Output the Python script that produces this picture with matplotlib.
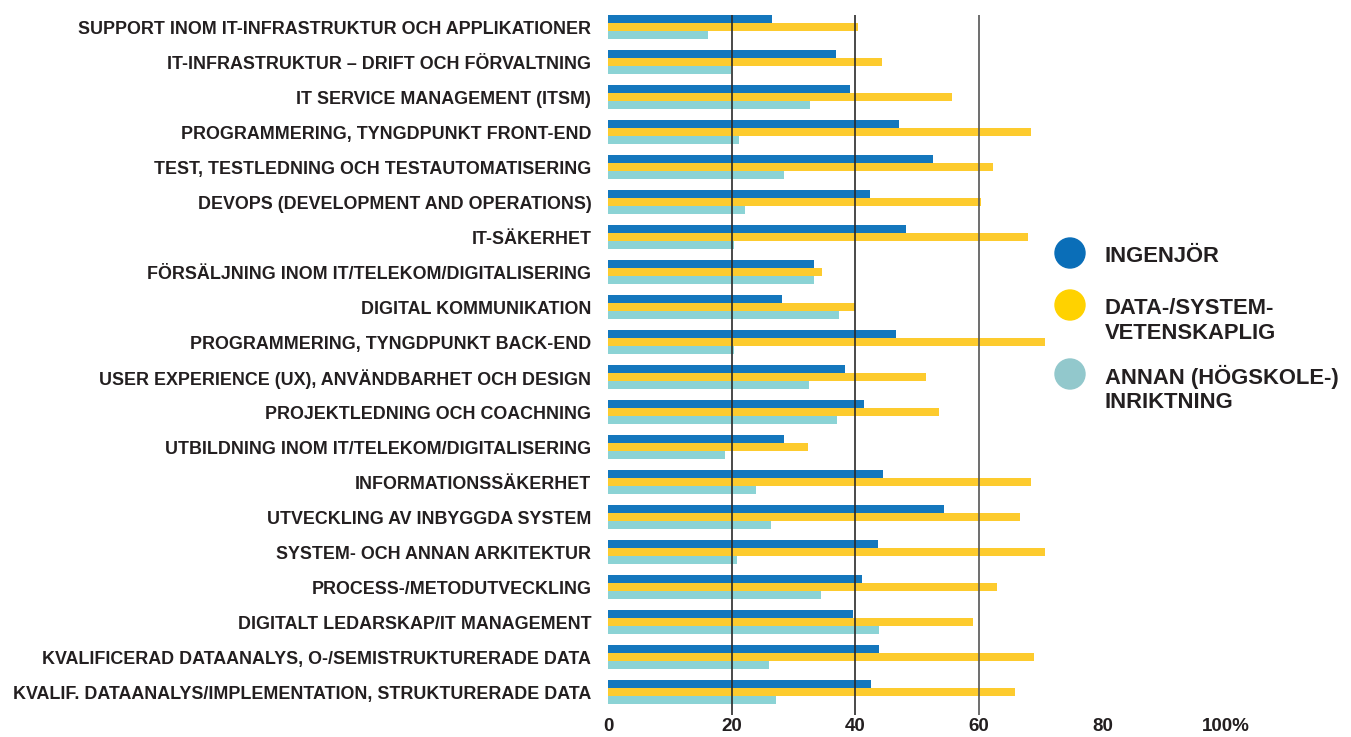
import matplotlib.pyplot as plt
from matplotlib.patches import Circle
import numpy as np

# Share (%) per competence area and educational background
categories = [
    'SUPPORT INOM IT-INFRASTRUKTUR OCH APPLIKATIONER',
    'IT-INFRASTRUKTUR – DRIFT OCH FÖRVALTNING',
    'IT SERVICE MANAGEMENT (ITSM)',
    'PROGRAMMERING, TYNGDPUNKT FRONT-END',
    'TEST, TESTLEDNING OCH TESTAUTOMATISERING',
    'DEVOPS (DEVELOPMENT AND OPERATIONS)',
    'IT-SÄKERHET',
    'FÖRSÄLJNING INOM IT/TELEKOM/DIGITALISERING',
    'DIGITAL KOMMUNIKATION',
    'PROGRAMMERING, TYNGDPUNKT BACK-END',
    'USER EXPERIENCE (UX), ANVÄNDBARHET OCH DESIGN',
    'PROJEKTLEDNING OCH COACHNING',
    'UTBILDNING INOM IT/TELEKOM/DIGITALISERING',
    'INFORMATIONSSÄKERHET',
    'UTVECKLING AV INBYGGDA SYSTEM',
    'SYSTEM- OCH ANNAN ARKITEKTUR',
    'PROCESS-/METODUTVECKLING',
    'DIGITALT LEDARSKAP/IT MANAGEMENT',
    'KVALIFICERAD DATAANALYS, O-/SEMISTRUKTURERADE DATA',
    'KVALIF. DATAANALYS/IMPLEMENTATION, STRUKTURERADE DATA',
]
ingenjor = [26.5, 36.9, 39.2, 47.0, 52.6, 42.4, 48.2, 33.3, 28.1, 46.6,
            38.3, 41.4, 28.5, 44.4, 54.4, 43.6, 41.0, 39.7, 43.9, 42.5]
datavet = [40.4, 44.3, 55.6, 68.4, 62.2, 60.4, 67.9, 34.6, 39.9, 70.7,
           51.5, 53.5, 32.3, 68.4, 66.7, 70.6, 62.9, 59.1, 68.9, 65.8]
annan = [16.1, 19.9, 32.7, 21.2, 28.5, 22.2, 20.3, 33.3, 37.4, 20.3,
         32.5, 37.0, 18.9, 23.9, 26.3, 20.8, 34.5, 43.8, 26.0, 27.1]

series_labels = ['INGENJÖR', 'DATA-/SYSTEM-\nVETENSKAPLIG', 'ANNAN (HÖGSKOLE-)\nINRIKTNING']
bar_colors = ['#1477BD', '#FDCB2E', '#8BD3D5']
dot_colors = ['#0A6EB8', '#FFD200', '#92C8CC']
xticks = [0, 20, 40, 60, 80, 100]
xtick_labels = ['0', '20', '40', '60', '80', '100%']

text_color = '#231F20'
font = 'Liberation Sans'

fig = plt.figure(figsize=(13.51, 7.37), dpi=100)
ax = fig.add_axes([608 / 1351, 22 / 737, 618.3 / 1351, 700 / 737])

y = np.arange(len(categories))
h = 0.2286
for k, (vals, col) in enumerate(zip([ingenjor, datavet, annan], bar_colors)):
    ax.barh(y + (k - 1) * h, vals, height=h, color=col, zorder=2)

for xv in [20, 40, 60]:
    ax.axvline(xv, color='#2a2a2a' if xv < 60 else '#555555', lw=1.2, zorder=3)

ax.set_xlim(0, 100)
ax.set_ylim(len(categories) - 1 + 0.657, -0.343)
ax.set_yticks(y)
ax.set_yticklabels(categories, fontsize=12.9, fontweight='bold', family=font, color=text_color)
ax.set_xticks(xticks)
ax.set_xticklabels(xtick_labels, fontsize=13.5, fontweight='bold', family=font, color=text_color)
ax.tick_params(axis='y', length=0, pad=12)
ax.tick_params(axis='x', length=0, pad=2.5)
for s in ax.spines.values():
    s.set_visible(False)

# legend drawn in pixel coordinates on an overlay
lax = fig.add_axes([0, 0, 1, 1])
lax.set_xlim(0, 1351)
lax.set_ylim(737, 0)
lax.axis('off')
dot_y = [253, 305, 374]
for lab, col, cy in zip(series_labels, dot_colors, dot_y):
    lax.add_patch(Circle((1070, cy), 15, color=col))
    for j, line in enumerate(lab.split('\n')):
        lax.text(1105, cy + 3 + j * 25, line, fontsize=15.8, fontweight='bold', family=font,
                 color=text_color, va='center', ha='left')

fig.savefig('out.png', dpi=100)
